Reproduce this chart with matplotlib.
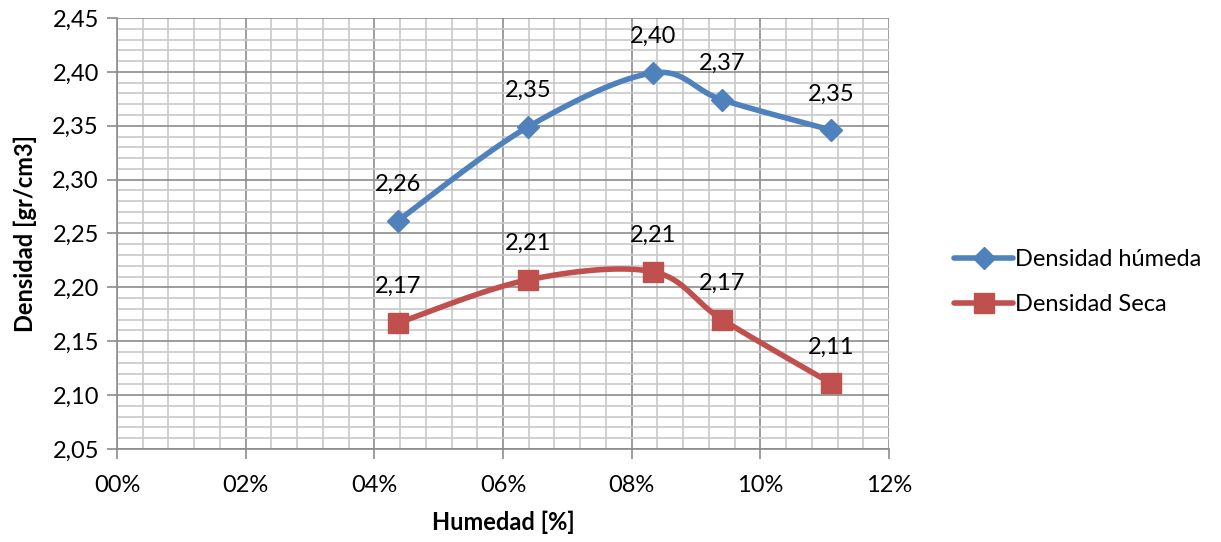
import numpy as np
import matplotlib
matplotlib.use("Agg")
import matplotlib.pyplot as plt
from matplotlib.ticker import MultipleLocator, FuncFormatter

plt.rcParams['font.family'] = ['Lato', 'DejaVu Sans']

# Moisture content (%) and densities (gr/cm3)
humedad = [4.37, 6.39, 8.33, 9.41, 11.10]
dens_humeda = [2.262, 2.349, 2.399, 2.374, 2.346]
dens_seca = [2.167, 2.207, 2.2145, 2.170, 2.111]
series_names = ["Densidad húmeda", "Densidad Seca"]

x_ticks = [0, 2, 4, 6, 8, 10, 12]
y_min, y_max = 2.05, 2.45

BLUE = "#4F81BD"
RED = "#C0504D"
FS = 17


def smooth(xs, ys, n=40):
    """Catmull-Rom style cubic Bezier smoothing through every point."""
    p = np.column_stack([xs, ys]).astype(float)
    pts = np.vstack([p[0], p, p[-1]])
    out = []
    for i in range(1, len(pts) - 2):
        p0, p1, p2, p3 = pts[i - 1], pts[i], pts[i + 1], pts[i + 2]
        c1 = p1 + (p2 - p0) / 6.0
        c2 = p2 - (p3 - p1) / 6.0
        t = np.linspace(0, 1, n)[:, None]
        seg = ((1 - t) ** 3) * p1 + 3 * ((1 - t) ** 2) * t * c1 + 3 * (1 - t) * t ** 2 * c2 + t ** 3 * p2
        out.append(seg if i == 1 else seg[1:])
    s = np.vstack(out)
    return s[:, 0], s[:, 1]


W, H = 1221, 542
fig = plt.figure(figsize=(W / 100, H / 100), dpi=100)
left, right, top, bottom = 117, 889, 18, 449
ax = fig.add_axes([left / W, 1 - bottom / H, (right - left) / W, (bottom - top) / H])

ax.set_xlim(0, 12)
ax.set_ylim(y_min, y_max)
ax.set_xticks(x_ticks)
ax.xaxis.set_minor_locator(MultipleLocator(0.4))
ax.yaxis.set_major_locator(MultipleLocator(0.05))
ax.yaxis.set_minor_locator(MultipleLocator(0.01))
ax.xaxis.set_major_formatter(FuncFormatter(lambda v, _: f"{int(round(v)):02d}%"))
ax.yaxis.set_major_formatter(FuncFormatter(lambda v, _: f"{v:.2f}".replace(".", ",")))

ax.grid(which="minor", color="#c8c8c8", linewidth=1.2, zorder=0)
ax.grid(which="major", color="#8c8c8c", linewidth=1.2, zorder=0.5)
ax.set_axisbelow(True)

for s in ["top", "right"]:
    ax.spines[s].set_visible(False)
for s in ["left", "bottom"]:
    ax.spines[s].set_color("#8c8c8c")
    ax.spines[s].set_linewidth(1.2)

ax.tick_params(which="major", length=7, width=1.2, color="#8c8c8c", labelsize=FS, pad=6)
ax.tick_params(which="minor", length=0)
ax.tick_params(axis="x", pad=12)

handles = []
for ys, color, marker, ms, name in [
    (dens_humeda, BLUE, "D", 11, series_names[0]),
    (dens_seca, RED, "s", 14, series_names[1]),
]:
    sx, sy = smooth(humedad, ys)
    ax.plot(sx, sy, color=color, lw=4, solid_capstyle="round", zorder=3)
    ax.plot(humedad, ys, linestyle="none", marker=marker, ms=ms, color=color, zorder=4)
    h, = ax.plot([], [], color=color, lw=4, marker=marker, ms=ms, solid_capstyle="round", label=name)
    handles.append(h)
    for xv, yv in zip(humedad, ys):
        ax.annotate(f"{yv:.2f}".replace(".", ","), (xv, yv), xytext=(0, 26),
                    textcoords="offset points", ha="center", va="center",
                    fontsize=FS, zorder=5)

ax.set_xlabel("Humedad [%]", fontsize=FS, fontweight="bold", labelpad=10)
ax.set_ylabel("Densidad [gr/cm3]", fontsize=FS, fontweight="bold", labelpad=11)

leg = fig.legend(handles=handles, loc="center left", bbox_to_anchor=(945 / W, 1 - 282 / H),
                 frameon=False, fontsize=FS, handlelength=2.5, handletextpad=0.05,
                 labelspacing=1.0, borderaxespad=0)

fig.savefig("out.png", dpi=100)
